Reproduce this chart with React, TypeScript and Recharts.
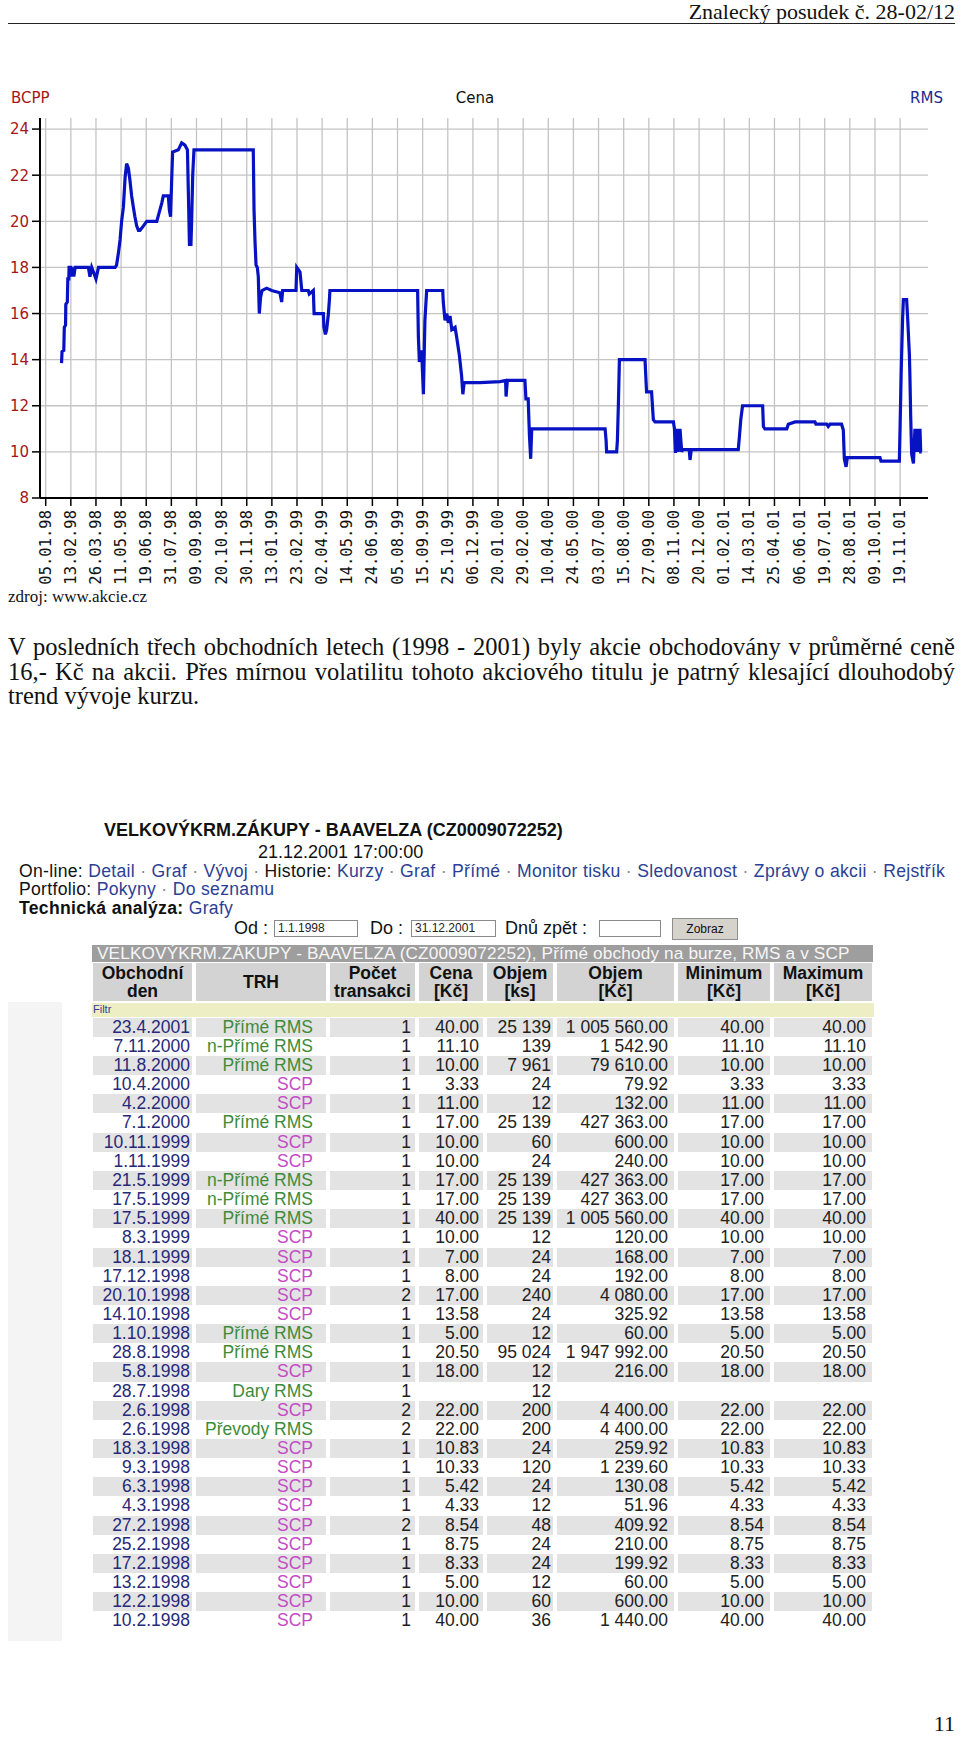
import React, { useLayoutEffect, useRef, useState } from "react"
import { CartesianGrid, Line, LineChart, XAxis, YAxis } from "recharts"

// --- chart: "Cena" (price, Kč), position along the x axis is measured in label steps
const dateLabels = [
  "05.01.98", "13.02.98", "26.03.98", "11.05.98", "19.06.98", "31.07.98", "09.09.98", "20.10.98", "30.11.98",
  "13.01.99", "23.02.99", "02.04.99", "14.05.99", "24.06.99", "05.08.99", "15.09.99", "25.10.99", "06.12.99",
  "20.01.00", "29.02.00", "10.04.00", "24.05.00", "03.07.00", "15.08.00", "27.09.00", "08.11.00", "20.12.00",
  "01.02.01", "14.03.01", "25.04.01", "06.06.01", "19.07.01", "28.08.01", "09.10.01", "19.11.01",
]
const dateTicks = dateLabels.map((_, i) => i)
const priceTicks = [8, 10, 12, 14, 16, 18, 20, 22, 24]

const tradePos = [
  0.63, 0.65, 0.72, 0.74, 0.79, 0.8, 0.86, 0.88, 0.92, 0.93, 1.0, 1.03, 1.07, 1.12, 1.17, 1.7, 1.76, 1.83, 1.9, 2.0,
  2.1, 2.76, 2.82, 2.89, 2.96, 3.02, 3.09, 3.16, 3.22, 3.29, 3.35, 3.42, 3.49, 3.55, 3.62, 3.69, 3.75, 3.89, 4.02, 4.42,
  4.52, 4.62, 4.68, 4.88, 4.92, 4.97, 5.01, 5.05, 5.28, 5.41, 5.54, 5.64, 5.68, 5.72, 5.78, 5.81, 5.85, 5.9, 8.26, 8.29,
  8.33, 8.37, 8.42, 8.46, 8.5, 8.55, 8.61, 8.79, 8.99, 9.32, 9.39, 9.43, 9.96, 9.99, 10.12, 10.19, 10.45, 10.49, 10.65, 10.68,
  11.05, 11.07, 11.13, 11.18, 11.25, 11.29, 11.31, 14.8, 14.83, 14.87, 14.96, 15.03, 15.09, 15.16, 15.8, 15.82, 15.89, 15.96, 16.02, 16.09,
  16.16, 16.29, 16.35, 16.46, 16.55, 16.6, 16.65, 17.28, 18.08, 18.3, 18.32, 18.37, 19.07, 19.11, 19.2, 19.25, 19.3, 19.34, 22.26, 22.3,
  22.32, 22.72, 22.75, 22.79, 22.83, 23.85, 23.87, 23.91, 24.11, 24.18, 24.25, 24.98, 25.02, 25.06, 25.11, 25.17, 25.24, 25.31, 25.35, 25.61,
  25.64, 25.69, 27.56, 27.6, 27.66, 27.73, 28.53, 28.56, 28.62, 29.49, 29.55, 29.82, 30.61, 30.65, 31.08, 31.14, 31.21, 31.67, 31.74, 31.78,
  31.85, 31.9, 33.2, 33.24, 33.97, 34.0, 34.04, 34.06, 34.1, 34.13, 34.26, 34.3, 34.37, 34.39, 34.42, 34.46, 34.53, 34.59, 34.63, 34.66,
  34.7, 34.73, 34.76, 34.79, 34.82, 34.86,
]
const tradePrice = [
  13.85, 14.35, 14.4, 15.4, 15.5, 16.4, 16.5, 17.5, 17.5, 18.0, 18.0, 17.6, 18.0, 17.6, 18.0, 18.0, 17.6, 18.0, 17.8, 17.5,
  18.0, 18.0, 18.1, 18.6, 19.2, 20.0, 20.6, 21.9, 22.5, 22.3, 21.8, 21.1, 20.6, 20.2, 19.8, 19.6, 19.6, 19.8, 20.0, 20.0,
  20.4, 20.8, 21.1, 21.1, 20.5, 20.2, 21.7, 23.0, 23.1, 23.4, 23.3, 23.1, 21.1, 19.0, 19.0, 20.1, 22.0, 23.1, 23.1, 20.5,
  19.1, 18.1, 18.0, 17.6, 16.0, 16.7, 17.0, 17.1, 17.0, 16.9, 16.5, 17.0, 17.0, 18.0, 17.8, 17.0, 17.0, 16.85, 17.0, 16.0,
  16.0, 15.4, 15.1, 15.3, 16.0, 16.6, 17.0, 17.0, 15.0, 13.9, 14.4, 12.5, 15.7, 17.0, 17.0, 16.5, 15.7, 16.0, 15.6, 15.9,
  15.3, 15.4, 15.0, 14.2, 13.3, 12.5, 13.0, 13.0, 13.05, 13.1, 12.4, 13.1, 13.1, 12.3, 12.3, 10.7, 9.7, 11.0, 11.0, 10.5,
  10.0, 10.0, 10.5, 12.1, 14.0, 14.0, 13.5, 12.6, 12.6, 11.4, 11.3, 11.3, 11.0, 9.95, 11.0, 10.0, 11.0, 10.0, 10.1, 10.1,
  9.65, 10.1, 10.1, 10.6, 11.4, 12.0, 12.0, 11.1, 11.0, 11.0, 11.2, 11.3, 11.3, 11.2, 11.2, 11.1, 11.2, 11.2, 10.95, 9.7,
  9.35, 9.75, 9.75, 9.6, 9.6, 11.1, 13.3, 14.2, 15.8, 16.6, 16.6, 15.8, 14.2, 13.3, 11.6, 9.9, 9.5, 11.0, 10.0, 11.0,
  10.0, 11.0, 10.0, 11.0, 10.0, 10.0,
]
const priceData = tradePos.map((t, i) => ({ t, cena: tradePrice[i] }))

// --- table: Přímé obchody na burze, RMS a v SCP
const tradeDays = [
  "23.4.2001", "7.11.2000", "11.8.2000", "10.4.2000", "4.2.2000", "7.1.2000", "10.11.1999", "1.11.1999", "21.5.1999", "17.5.1999",
  "17.5.1999", "8.3.1999", "18.1.1999", "17.12.1998", "20.10.1998", "14.10.1998", "1.10.1998", "28.8.1998", "5.8.1998", "28.7.1998",
  "2.6.1998", "2.6.1998", "18.3.1998", "9.3.1998", "6.3.1998", "4.3.1998", "27.2.1998", "25.2.1998", "17.2.1998", "13.2.1998",
  "12.2.1998", "10.2.1998",
]
const markets = [
  "Přímé RMS", "n-Přímé RMS", "Přímé RMS", "SCP", "SCP", "Přímé RMS", "SCP", "SCP", "n-Přímé RMS", "n-Přímé RMS",
  "Přímé RMS", "SCP", "SCP", "SCP", "SCP", "SCP", "Přímé RMS", "Přímé RMS", "SCP", "Dary RMS",
  "SCP", "Převody RMS", "SCP", "SCP", "SCP", "SCP", "SCP", "SCP", "SCP", "SCP",
  "SCP", "SCP",
]
const tradeCounts = [
  "1", "1", "1", "1", "1", "1", "1", "1", "1", "1", "1", "1", "1", "1", "2", "1", "1", "1", "1", "1",
  "2", "2", "1", "1", "1", "1", "2", "1", "1", "1", "1", "1",
]
const prices = [
  "40.00", "11.10", "10.00", "3.33", "11.00", "17.00", "10.00", "10.00", "17.00", "17.00",
  "40.00", "10.00", "7.00", "8.00", "17.00", "13.58", "5.00", "20.50", "18.00", "",
  "22.00", "22.00", "10.83", "10.33", "5.42", "4.33", "8.54", "8.75", "8.33", "5.00",
  "10.00", "40.00",
]
const volumesKs = [
  "25 139", "139", "7 961", "24", "12", "25 139", "60", "24", "25 139", "25 139",
  "25 139", "12", "24", "24", "240", "24", "12", "95 024", "12", "12",
  "200", "200", "24", "120", "24", "12", "48", "24", "24", "12",
  "60", "36",
]
const volumesKc = [
  "1 005 560.00", "1 542.90", "79 610.00", "79.92", "132.00", "427 363.00", "600.00", "240.00", "427 363.00", "427 363.00",
  "1 005 560.00", "120.00", "168.00", "192.00", "4 080.00", "325.92", "60.00", "1 947 992.00", "216.00", "",
  "4 400.00", "4 400.00", "259.92", "1 239.60", "130.08", "51.96", "409.92", "210.00", "199.92", "60.00",
  "600.00", "1 440.00",
]
const minimums = [
  "40.00", "11.10", "10.00", "3.33", "11.00", "17.00", "10.00", "10.00", "17.00", "17.00",
  "40.00", "10.00", "7.00", "8.00", "17.00", "13.58", "5.00", "20.50", "18.00", "",
  "22.00", "22.00", "10.83", "10.33", "5.42", "4.33", "8.54", "8.75", "8.33", "5.00",
  "10.00", "40.00",
]
const maximums = [
  "40.00", "11.10", "10.00", "3.33", "11.00", "17.00", "10.00", "10.00", "17.00", "17.00",
  "40.00", "10.00", "7.00", "8.00", "17.00", "13.58", "5.00", "20.50", "18.00", "",
  "22.00", "22.00", "10.83", "10.33", "5.42", "4.33", "8.54", "8.75", "8.33", "5.00",
  "10.00", "40.00",
]
const headers = [
  ["Obchodní", "den"], ["TRH"], ["Počet", "transakci"], ["Cena", "[Kč]"],
  ["Objem", "[ks]"], ["Objem", "[Kč]"], ["Minimum", "[Kč]"], ["Maximum", "[Kč]"],
]

const cols = [
  { left: 93, right: 192, pad: 2 },
  { left: 196, right: 326, pad: 13 },
  { left: 330, right: 415, pad: 4 },
  { left: 419, right: 483, pad: 4 },
  { left: 487, right: 553, pad: 2 },
  { left: 557, right: 674, pad: 6 },
  { left: 678, right: 770, pad: 6 },
  { left: 774, right: 872, pad: 6 },
]

const abs = (left: number, top: number, extra: React.CSSProperties = {}): React.CSSProperties => ({
  position: "absolute", left, top, whiteSpace: "nowrap", ...extra,
})

const LINK = "#2c3f94"
const SANS = "'Liberation Sans', Arial, sans-serif"
const SERIF = "'Liberation Serif', 'Times New Roman', serif"

function DateTick(props: any) {
  const { x, y, payload } = props
  return (
    <text x={x} y={y} transform={`rotate(-90 ${x} ${y})`} textAnchor="end" dominantBaseline="central"
      fontFamily="'DejaVu Sans Mono', monospace" fontSize={15.5} fill="#111">
      {dateLabels[payload.value]}
    </text>
  )
}

function PriceChart() {
  return (
    <div style={abs(0, 83, { width: 960, height: 503, overflow: "hidden" })}>
      <LineChart width={960} height={503} data={priceData} margin={{ top: 35, right: 32, bottom: 0, left: 0 }}>
        <CartesianGrid stroke="#c4c4c4" strokeWidth={1.3} horizontalValues={priceTicks} verticalValues={dateTicks} />
        <XAxis type="number" dataKey="t" domain={[-0.227, 35.11]} ticks={dateTicks} interval={0}
          allowDataOverflow height={88} tickSize={8} tickMargin={4} tick={<DateTick />}
          axisLine={{ stroke: "#000", strokeWidth: 2 }} tickLine={{ stroke: "#000", strokeWidth: 1.5 }} />
        <YAxis type="number" domain={[8, 24.48]} ticks={priceTicks} interval={0} allowDataOverflow width={40}
          tickSize={8} tickMargin={3} tick={{ fill: "#a3161a", fontSize: 15, fontFamily: "'DejaVu Sans', sans-serif" }}
          axisLine={{ stroke: "#000", strokeWidth: 2 }} tickLine={{ stroke: "#000", strokeWidth: 1.5 }} />
        <Line type="linear" dataKey="cena" stroke="#0712c2" strokeWidth={3.2} dot={false} isAnimationActive={false} />
      </LineChart>
    </div>
  )
}

// one line of justified body text: spaces are widened (or narrowed) to fill the width
function JustLine({ text, width, justify }: { text: string; width: number; justify: boolean }) {
  const ref = useRef<HTMLSpanElement>(null)
  const [gap, setGap] = useState(0)
  useLayoutEffect(() => {
    if (!justify || !ref.current) return
    const w = ref.current.getBoundingClientRect().width
    const spaces = text.split(" ").length - 1
    setGap((width - w) / spaces)
  }, [text, width, justify])
  return (
    <div style={{ whiteSpace: "nowrap", height: 24.5 }}>
      <span ref={ref} style={{ wordSpacing: gap }}>{text}</span>
    </div>
  )
}

function Sep() {
  return <span style={{ color: "#888" }}> · </span>
}

function TradesTable() {
  const rowTop = 1017.7
  const rowH = 19.15
  const cells = (i: number) => [
    { text: tradeDays[i], color: "#27297a" },
    { text: markets[i], color: markets[i] === "SCP" ? "#c54bc6" : "#3d8c3a" },
    { text: tradeCounts[i], color: "#222" },
    { text: prices[i], color: "#222" },
    { text: volumesKs[i], color: "#222" },
    { text: volumesKc[i], color: "#222" },
    { text: minimums[i], color: "#222" },
    { text: maximums[i], color: "#222" },
  ]
  return (
    <div style={{ fontFamily: SANS }}>
      <div style={abs(8, 1002, { width: 54, height: 639, background: "#f4f4f4" })} />
      <div style={abs(92, 945, { width: 781, height: 17, background: "#9e9e9e", color: "#f6f6f6", fontSize: 17.2, letterSpacing: 0.15, lineHeight: "17px", paddingLeft: 5, boxSizing: "border-box" })}>
        VELKOVÝKRM.ZÁKUPY - BAAVELZA (CZ0009072252), Přímé obchody na burze, RMS a v SCP
      </div>
      {headers.map((h, c) => (
        <div key={"h" + c} style={abs(cols[c].left, 963, {
          width: cols[c].right - cols[c].left, height: 38, background: "#d3d3d3", fontSize: 17.5, fontWeight: "bold",
          lineHeight: "18px", textAlign: "center", display: "flex", flexDirection: "column", justifyContent: "center", color: "#111",
        })}>
          {h.map((line, k) => <div key={k}>{line}</div>)}
        </div>
      ))}
      <div style={abs(92, 1003, { width: 781, height: 14, background: "#eeeec4", fontSize: 11, lineHeight: "13px", color: LINK, paddingLeft: 1 })}>Filtr</div>
      {tradeDays.map((_, i) => (
        <React.Fragment key={i}>
          {cells(i).map((cell, c) => (
            <div key={c} style={abs(cols[c].left, rowTop + i * rowH, {
              width: cols[c].right - cols[c].left, height: rowH, boxSizing: "border-box", paddingRight: cols[c].pad,
              background: i % 2 === 0 ? "#e3e3e3" : "#ffffff", textAlign: "right", fontSize: 17.5, lineHeight: rowH + "px", color: cell.color,
            })}>
              {cell.text}
            </div>
          ))}
        </React.Fragment>
      ))}
    </div>
  )
}

function WebHeader() {
  const input = (left: number, width: number, text: string) => (
    <div style={abs(left, 920, { width, height: 17, boxSizing: "border-box", border: "1px solid #8a8a8a", background: "#fff", fontSize: 12, lineHeight: "15px", paddingLeft: 3, color: "#222" })}>{text}</div>
  )
  const nav: React.CSSProperties = { fontSize: 17.6, letterSpacing: 0.3, lineHeight: "18.3px" }
  return (
    <div style={{ fontFamily: SANS, color: "#111" }}>
      <div style={abs(104, 821, { fontWeight: "bold", fontSize: 18, lineHeight: "18px" })}>VELKOVÝKRM.ZÁKUPY - BAAVELZA (CZ0009072252)</div>
      <div style={abs(258, 843, { fontSize: 18, lineHeight: "18px" })}>21.12.2001 17:00:00</div>
      <div style={abs(19, 862, nav)}>
        On-line: <span style={{ color: LINK }}>Detail</span><Sep /><span style={{ color: LINK }}>Graf</span><Sep />
        <span style={{ color: LINK }}>Vývoj</span><Sep />Historie: <span style={{ color: LINK }}>Kurzy</span><Sep />
        <span style={{ color: LINK }}>Graf</span><Sep /><span style={{ color: LINK }}>Přímé</span><Sep />
        <span style={{ color: LINK }}>Monitor tisku</span><Sep /><span style={{ color: LINK }}>Sledovanost</span><Sep />
        <span style={{ color: LINK }}>Zprávy o akcii</span><Sep /><span style={{ color: LINK }}>Rejstřík</span>
      </div>
      <div style={abs(19, 880.3, nav)}>
        Portfolio: <span style={{ color: LINK }}>Pokyny</span><Sep /><span style={{ color: LINK }}>Do seznamu</span>
      </div>
      <div style={abs(19, 898.6, nav)}>
        <b>Technická analýza:</b> <span style={{ color: LINK }}>Grafy</span>
      </div>
      <div style={abs(234, 919, { lineHeight: "18px", fontSize: 18 })}>Od :</div>
      {input(274, 84, "1.1.1998")}
      <div style={abs(370, 919, { lineHeight: "18px", fontSize: 18 })}>Do :</div>
      {input(411, 85, "31.12.2001")}
      <div style={abs(505, 919, { lineHeight: "18px", fontSize: 18 })}>Dnů zpět :</div>
      {input(599, 62, "")}
      <div style={abs(672, 918, { width: 66, height: 22, boxSizing: "border-box", background: "#d6d3cc", border: "1px solid #8f8f8f", fontSize: 12, lineHeight: "20px", textAlign: "center" })}>Zobraz</div>
    </div>
  )
}

export default function App() {
  return (
    <div style={{ position: "absolute", left: 0, top: 0, width: 960, height: 1744, background: "#fff", overflow: "hidden", fontFamily: SERIF }}>
      <div style={abs(0, 0, { width: 955, textAlign: "right", fontSize: 22, lineHeight: "24px", color: "#111" })}>Znalecký posudek č. 28-02/12</div>
      <div style={abs(8, 23, { width: 947, height: 0, borderTop: "1.5px solid #222" })} />

      <div style={abs(11, 89, { fontFamily: "'DejaVu Sans', sans-serif", fontSize: 15, lineHeight: "18px", color: "#a3161a" })}>BCPP</div>
      <div style={abs(0, 89, { width: 950, textAlign: "center", fontFamily: "'DejaVu Sans', sans-serif", fontSize: 15, lineHeight: "18px", color: "#111" })}>Cena</div>
      <div style={abs(0, 89, { width: 943, textAlign: "right", fontFamily: "'DejaVu Sans', sans-serif", fontSize: 15, lineHeight: "18px", color: "#1f2a8c" })}>RMS</div>
      <PriceChart />
      <div style={abs(8, 588, { fontSize: 17, lineHeight: "18px", color: "#111" })}>zdroj: www.akcie.cz</div>

      <div style={{ position: "absolute", left: 8, top: 635, width: 947, fontSize: 24.5, lineHeight: "24.5px", color: "#111" }}>
        <JustLine width={947} justify text="V posledních třech obchodních letech (1998 - 2001) byly akcie obchodovány v průměrné ceně" />
        <JustLine width={947} justify text="16,- Kč na akcii. Přes mírnou volatilitu tohoto akciového titulu je patrný klesající dlouhodobý" />
        <JustLine width={947} justify={false} text="trend vývoje kurzu." />
      </div>

      <WebHeader />
      <TradesTable />

      <div style={abs(0, 1712, { width: 955, textAlign: "right", fontSize: 22, lineHeight: "24px", color: "#111" })}>11</div>
    </div>
  )
}
